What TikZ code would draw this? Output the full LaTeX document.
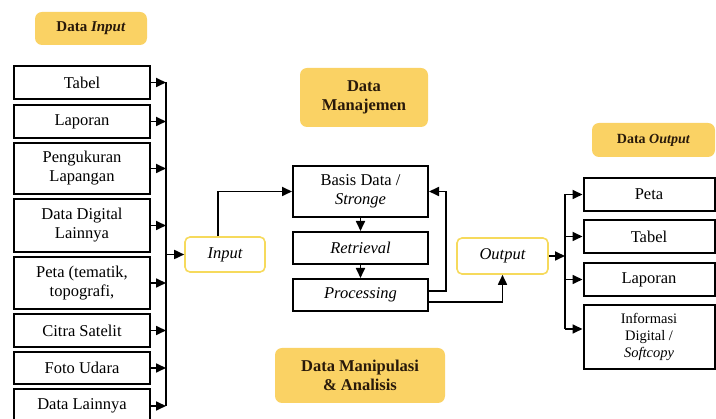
\documentclass[tikz,border=0pt]{standalone}
\usepackage{fontspec}
\setmainfont{Liberation Serif}
\usetikzlibrary{arrows.meta}
\definecolor{gold}{RGB}{250,210,100}
\definecolor{lemon}{RGB}{246,218,92}
\definecolor{ink}{RGB}{40,25,10}
\begin{document}
\begin{tikzpicture}[x=1pt, y=-1pt,
  b/.style={draw, line width=2pt, align=center, inner sep=1pt, font=\fontsize{16.5}{19}\selectfont},
  g/.style={fill=gold, rounded corners=7pt, align=center, text=ink, font=\fontsize{15}{18}\selectfont\bfseries},
  yb/.style={draw=lemon, line width=1.6pt, rounded corners=5pt, font=\fontsize{16.5}{19}\selectfont\itshape},
  ar/.style={-{Triangle[length=10pt,width=9pt]}, line width=1.7pt}]
  \useasboundingbox (0,0) rectangle (716,419);
  % input side
  \node[g, minimum width=112pt, minimum height=33pt] (ttlin) at (91,28.5) {Data \textit{Input}};
  \foreach \t/\yc/\h [count=\i] in {Tabel/82.5/33, Laporan/121.5/33, {Pengukuran\\Lapangan}/168.5/51,
      {Data Digital\\Lainnya}/225.5/53, {Peta (tematik,\\topografi,}/283/52, Citra Satelit/330.5/33,
      Foto Udara/368/32, Data Lainnya/406/33}
    \node[b, minimum width=136pt, minimum height=\h pt] (in\i) at (82,\yc) {\t};
  \coordinate (bus) at (166,0);
  \foreach \i in {1,...,8} \draw[ar] (in\i.east) -- (in\i.east -| bus);
  \draw[line width=1.7pt] (in1.east -| bus) -- (in8.east -| bus);
  \node[yb, minimum width=80pt, minimum height=35pt] (inp) at (225,254.5) {Input};
  \draw[ar] (bus |- inp.west) -- (inp.west);
  % data management
  \node[g, minimum width=128pt, minimum height=59pt, font=\fontsize{16.5}{19}\selectfont\bfseries] (ttlman) at (364,97.5) {Data\\Manajemen};
  \node[b, minimum width=135pt, minimum height=51pt] (basis) at (360.5,191.5) {Basis Data /\\\textit{Stronge}};
  \node[b, minimum width=135pt, minimum height=32pt] (retr) at (360.5,248) {\textit{Retrieval}};
  \node[b, minimum width=135pt, minimum height=32pt] (proc) at (360.5,295) {\textit{Processing}};
  \draw[ar] (basis) -- (retr);
  \draw[ar] (retr) -- (proc);
  \draw[ar] ([xshift=-7pt]inp.north) |- (basis.west);
  \draw[ar] ([yshift=4pt]proc.east) -- ++(17,0) |- (basis.east);
  \node[yb, minimum width=91pt, minimum height=36pt] (outp) at (502.5,256) {Output};
  \draw[ar] ([yshift=-7pt]proc.east) -| (outp.south);
  \node[g, minimum width=170pt, minimum height=55pt, font=\fontsize{16.5}{19}\selectfont\bfseries] (ttlana) at (360,375.5) {Data Manipulasi\\\& Analisis};
  % output side
  \node[g, minimum width=123pt, minimum height=34pt, font=\fontsize{14}{17}\selectfont\bfseries] (ttlout) at (653.5,140) {Data \textit{Output}};
  \foreach \t/\yc [count=\i] in {Peta/194.5, Tabel/236.5, Laporan/279.5}
    \node[b, minimum width=131pt, minimum height=33pt] (out\i) at (649,\yc) {\t};
  \node[b, minimum width=131pt, minimum height=64pt, font=\fontsize{14.5}{17}\selectfont] (out4) at (649,337) {Informasi\\Digital /\\\textit{Softcopy}};
  \coordinate (bus2) at (565,0);
  \coordinate (o4) at ([yshift=8pt]out4.west);
  \draw[ar] (outp.east) -- (outp.east -| bus2);
  \foreach \i in {1,2,3} \draw[ar] (out\i.west -| bus2) -- (out\i.west);
  \draw[ar] (o4 -| bus2) -- (o4);
  \draw[line width=1.7pt] (out1.west -| bus2) -- (o4 -| bus2);
\end{tikzpicture}
\end{document}
